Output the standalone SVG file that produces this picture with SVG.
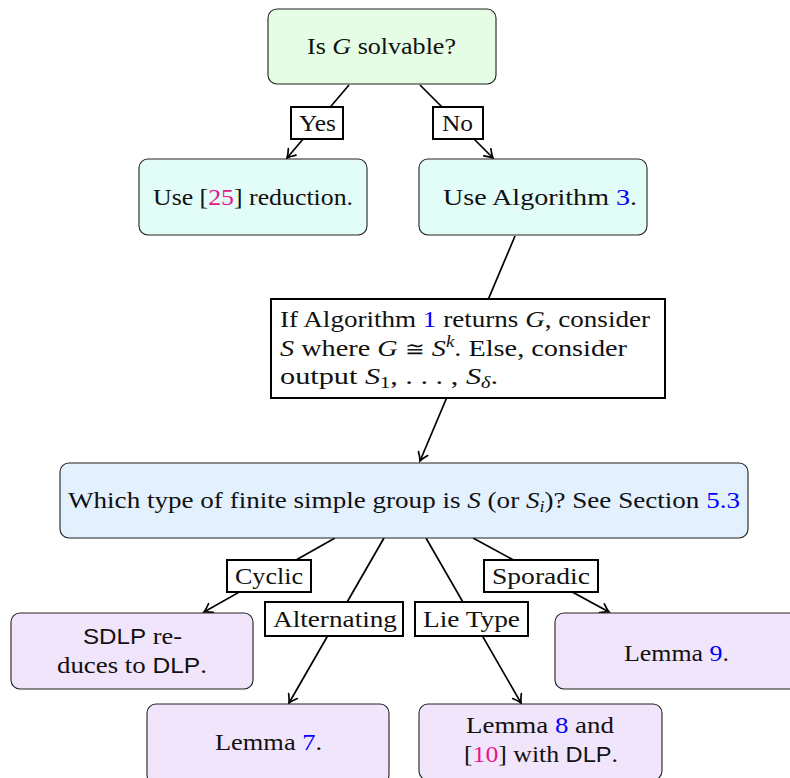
<svg xmlns="http://www.w3.org/2000/svg" width="790" height="778" viewBox="0 0 790 778">
<defs>
<style>
.i{font-style:italic}
.b{fill:#0000ff}
.p{fill:#e8168a}
.node{stroke:#222;stroke-width:1.1}
.green{fill:#e5fce5}.cyan{fill:#e2fcf8}.blue{fill:#e3f0fd}.lav{fill:#f1e5fc}
.edge{stroke:#000;stroke-width:1.7;fill:none}
.lab{fill:#fff;stroke:#000;stroke-width:2}
</style>
<marker id="arr" viewBox="-10 -7 12 14" refX="0" refY="0" markerWidth="12" markerHeight="14" orient="auto" markerUnits="userSpaceOnUse">
<path d="M-8,-5 Q-3,-1.2 0,0 Q-3,1.2 -8,5" fill="none" stroke="#000" stroke-width="1.7" stroke-linecap="round"/>
</marker>
</defs>
<rect width="790" height="778" fill="#fff"/>

<g id="connectors">
<line class="edge" x1="349" y1="85" x2="287" y2="158" marker-end="url(#arr)"/>
<line class="edge" x1="420" y1="85" x2="493" y2="158" marker-end="url(#arr)"/>
<line class="edge" x1="515" y1="236" x2="420" y2="461" marker-end="url(#arr)"/>
<line class="edge" x1="335" y1="538" x2="204" y2="612" marker-end="url(#arr)"/>
<line class="edge" x1="384" y1="538" x2="289" y2="703" marker-end="url(#arr)"/>
<line class="edge" x1="426" y1="538" x2="521" y2="703" marker-end="url(#arr)"/>
<line class="edge" x1="473" y1="538" x2="609" y2="612" marker-end="url(#arr)"/>
<g id="label-yes"><rect class="lab" x="291" y="107" width="52" height="32"/><text font-family="Liberation Serif" font-size="24" fill="#111" x="299" y="131" textLength="37" lengthAdjust="spacingAndGlyphs">Yes</text></g>
<g id="label-no"><rect class="lab" x="433" y="107" width="50" height="32"/><text font-family="Liberation Serif" font-size="24" fill="#111" x="442" y="131" textLength="31" lengthAdjust="spacingAndGlyphs">No</text></g>
<g id="label-cyclic"><rect class="lab" x="227" y="560" width="84" height="32"/><text font-family="Liberation Serif" font-size="24" fill="#111" x="235" y="584" textLength="68" lengthAdjust="spacingAndGlyphs">Cyclic</text></g>
<g id="label-sporadic"><rect class="lab" x="484" y="560" width="114" height="32"/><text font-family="Liberation Serif" font-size="24" fill="#111" x="492" y="584" textLength="98" lengthAdjust="spacingAndGlyphs">Sporadic</text></g>
<g id="label-alternating"><rect class="lab" x="265" y="602" width="138" height="34"/><text font-family="Liberation Serif" font-size="24" fill="#111" x="273" y="627" textLength="124" lengthAdjust="spacingAndGlyphs">Alternating</text></g>
<g id="label-lie"><rect class="lab" x="415" y="602" width="113" height="34"/><text font-family="Liberation Serif" font-size="24" fill="#111" x="423" y="627" textLength="97" lengthAdjust="spacingAndGlyphs">Lie Type</text></g>
</g>

<g id="n-solvable">
<rect class="node green" x="268" y="9" width="228" height="75" rx="9"/>
<text font-family="Liberation Serif" font-size="24" fill="#111" x="307" y="54" textLength="149" lengthAdjust="spacingAndGlyphs">Is <tspan class="i">G</tspan> solvable?</text>
</g>
<g id="n-reduction">
<rect class="node cyan" x="139" y="159" width="228" height="76" rx="9"/>
<text font-family="Liberation Serif" font-size="24" fill="#111" x="153" y="205" textLength="200" lengthAdjust="spacingAndGlyphs">Use [<tspan class="p">25</tspan>] reduction.</text>
</g>
<g id="n-alg3">
<rect class="node cyan" x="419" y="159" width="228" height="76" rx="9"/>
<text font-family="Liberation Serif" font-size="24" fill="#111" x="443" y="205" textLength="194" lengthAdjust="spacingAndGlyphs">Use Algorithm <tspan class="b">3</tspan>.</text>
</g>
<g id="n-alg1">
<rect x="271" y="299" width="394" height="99" fill="#fff" stroke="#000" stroke-width="2"/>
<text font-family="Liberation Serif" font-size="24" fill="#111" x="280" y="327" textLength="370" lengthAdjust="spacingAndGlyphs">If Algorithm <tspan class="b">1</tspan> returns <tspan class="i">G</tspan>, consider</text>
<text font-family="Liberation Serif" font-size="24" fill="#111" x="280" y="356" textLength="347" lengthAdjust="spacingAndGlyphs"><tspan class="i">S</tspan> where <tspan class="i">G</tspan> <tspan font-family="DejaVu Serif" font-size="20">≅</tspan> <tspan class="i">S</tspan><tspan class="i" font-size="16" dy="-9">k</tspan><tspan dy="9">. Else, consider</tspan></text>
<text font-family="Liberation Serif" font-size="24" fill="#111" x="280" y="384" textLength="218" lengthAdjust="spacingAndGlyphs">output <tspan class="i">S</tspan><tspan font-size="16" dy="4">1</tspan><tspan dy="-4">, . . . , </tspan><tspan class="i">S</tspan><tspan class="i" font-size="16" dy="4">δ</tspan><tspan dy="-4">.</tspan></text>
</g>
<g id="n-type">
<rect class="node blue" x="60" y="463" width="688" height="75" rx="9"/>
<text font-family="Liberation Serif" font-size="24" fill="#111" x="68" y="508" textLength="672" lengthAdjust="spacingAndGlyphs">Which type of finite simple group is <tspan class="i">S</tspan> (or <tspan class="i">S</tspan><tspan class="i" font-size="16" dy="4">i</tspan><tspan dy="-4">)? See Section </tspan><tspan class="b">5.3</tspan></text>
</g>
<g id="n-sdlp">
<rect class="node lav" x="11" y="613" width="242" height="76" rx="9"/>
<text font-family="Liberation Serif" font-size="24" fill="#111" x="83" y="644" textLength="99" lengthAdjust="spacingAndGlyphs"><tspan font-family="Liberation Sans" font-size="22">SDLP</tspan> re-</text>
<text font-family="Liberation Serif" font-size="24" fill="#111" x="57" y="673" textLength="150" lengthAdjust="spacingAndGlyphs">duces to <tspan font-family="Liberation Sans" font-size="22">DLP</tspan>.</text>
</g>
<g id="n-lemma9">
<rect class="node lav" x="555" y="613" width="250" height="76" rx="9"/>
<text font-family="Liberation Serif" font-size="24" fill="#111" x="624" y="661" textLength="105" lengthAdjust="spacingAndGlyphs">Lemma <tspan class="b">9</tspan>.</text>
</g>
<g id="n-lemma7">
<rect class="node lav" x="147" y="704" width="242" height="80" rx="9"/>
<text font-family="Liberation Serif" font-size="24" fill="#111" x="215" y="750" textLength="107" lengthAdjust="spacingAndGlyphs">Lemma <tspan class="b">7</tspan>.</text>
</g>
<g id="n-lemma8">
<rect class="node lav" x="419" y="704" width="243" height="76" rx="9"/>
<text font-family="Liberation Serif" font-size="24" fill="#111" x="466" y="733" textLength="148" lengthAdjust="spacingAndGlyphs">Lemma <tspan class="b">8</tspan> and</text>
<text font-family="Liberation Serif" font-size="24" fill="#111" x="464" y="762" textLength="154" lengthAdjust="spacingAndGlyphs">[<tspan class="p">10</tspan>] with <tspan font-family="Liberation Sans" font-size="22">DLP</tspan>.</text>
</g>
</svg>
